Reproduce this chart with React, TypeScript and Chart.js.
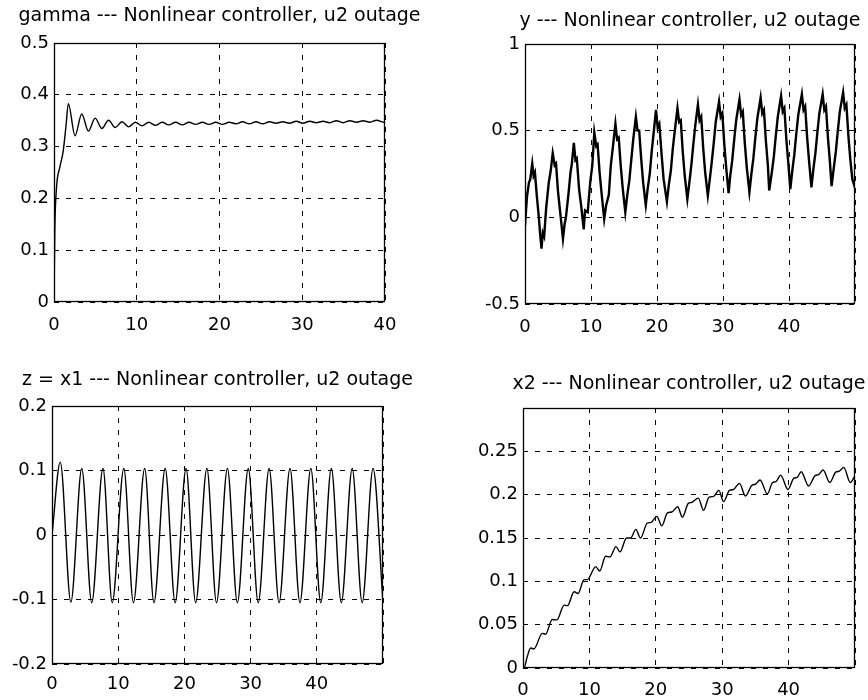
import React, { useEffect, useRef } from 'react';
import { Chart, registerables } from 'chart.js';

Chart.register(...registerables);

// ---------------- data ----------------
// gamma --- Nonlinear controller, u2 outage
const gammaT = [0, 0.1, 0.3, 0.7, 1.1, 1.45, 1.73,
  2.54, 3.35, 4.16, 4.97, 5.78, 6.59, 7.40, 8.21, 9.02, 9.83, 10.64, 11.45, 12.26, 13.07,
  13.88, 14.69, 15.50, 16.31, 17.12, 17.93, 18.74, 19.55, 20.36, 21.17, 21.98, 22.79,
  23.60, 24.41, 25.22, 26.03, 26.84, 27.65, 28.46, 29.27, 30.08, 30.89, 31.70, 32.51,
  33.32, 34.13, 34.94, 35.75, 36.56, 37.37, 38.18, 38.99, 39.80, 40];
const gammaV = [0, 0.14, 0.22, 0.26, 0.29, 0.34, 0.383,
  0.321, 0.363, 0.330, 0.355, 0.335, 0.351, 0.337, 0.348, 0.338, 0.347, 0.340, 0.347, 0.341, 0.347,
  0.342, 0.347, 0.342, 0.347, 0.343, 0.347, 0.343, 0.347, 0.343, 0.347, 0.344, 0.348,
  0.344, 0.348, 0.344, 0.348, 0.345, 0.348, 0.345, 0.349, 0.345, 0.349, 0.346, 0.349,
  0.346, 0.350, 0.346, 0.350, 0.347, 0.350, 0.347, 0.351, 0.347, 0.348];

// y --- Nonlinear controller, u2 outage
const yT = [0.0, 0.3, 0.6, 0.8, 1.1, 1.3, 1.5, 1.8, 2.1, 2.3, 2.5, 2.7, 2.9,
  3.2, 3.6, 3.9, 4.2, 4.5, 4.7, 5.0, 5.3, 5.5, 5.75, 6.0,
  6.2, 6.6, 6.9, 7.1, 7.4, 7.65, 7.85, 8.2, 8.5, 8.9, 9.1,
  9.5, 9.9, 10.2, 10.5, 10.8, 11.0, 11.3, 11.6, 12.0,
  12.3, 12.7, 13.0, 13.3, 13.7, 13.95, 14.2, 14.5, 14.8, 15.2,
  15.5, 15.8, 16.1, 16.4, 16.8, 17.05, 17.3, 17.6, 17.9, 18.3,
  18.6, 18.9, 19.2, 19.5, 19.85, 20.1, 20.35, 20.7, 21.0, 21.5,
  21.8, 22.1, 22.4, 22.7, 23.1, 23.35, 23.6, 23.9, 24.2, 24.6,
  24.9, 25.2, 25.5, 25.8, 26.2, 26.45, 26.7, 27.0, 27.3, 27.7,
  28.0, 28.3, 28.6, 28.9, 29.4, 29.65, 29.9, 30.2, 30.5, 30.85,
  31.1, 31.4, 31.7, 32.0, 32.5, 32.75, 33.0, 33.3, 33.6, 34.0,
  34.3, 34.6, 34.9, 35.2, 35.7, 35.95, 36.2, 36.5, 36.8, 37.0,
  37.4, 37.7, 38.0, 38.3, 38.8, 39.05, 39.3, 39.6, 39.9, 40.2,
  40.5, 40.8, 41.1, 41.4, 41.95, 42.2, 42.45, 42.75, 43.05, 43.4,
  43.7, 44.0, 44.3, 44.6, 45.1, 45.35, 45.6, 45.9, 46.2, 46.45,
  46.8, 47.1, 47.4, 47.7, 48.2, 48.45, 48.7, 49.0, 49.3, 49.6, 50.0];
const yV = [-0.05, 0.12, 0.2, 0.22, 0.31, 0.24, 0.26, 0.12, 0.0, -0.1, -0.18, -0.09, -0.11,
  0.05, 0.2, 0.27, 0.37, 0.3, 0.31, 0.15, 0.04, -0.03, -0.125, -0.04,
  0.0, 0.14, 0.26, 0.31, 0.43, 0.33, 0.34, 0.16, 0.07, -0.07, 0.04,
  0.03, 0.21, 0.3, 0.49, 0.41, 0.42, 0.26, 0.14, -0.01,
  0.07, 0.13, 0.3, 0.4, 0.54, 0.45, 0.46, 0.3, 0.17, 0.03,
  0.13, 0.21, 0.33, 0.45, 0.58, 0.5, 0.5, 0.34, 0.2, 0.07,
  0.17, 0.25, 0.38, 0.49, 0.62, 0.52, 0.54, 0.36, 0.22, 0.09,
  0.19, 0.27, 0.4, 0.5, 0.63, 0.55, 0.56, 0.38, 0.24, 0.105,
  0.2, 0.3, 0.42, 0.53, 0.65, 0.56, 0.58, 0.4, 0.26, 0.125,
  0.22, 0.32, 0.43, 0.55, 0.667, 0.58, 0.6, 0.42, 0.28, 0.14,
  0.24, 0.33, 0.45, 0.56, 0.68, 0.59, 0.61, 0.43, 0.29, 0.145,
  0.25, 0.34, 0.46, 0.57, 0.69, 0.6, 0.62, 0.44, 0.3, 0.155,
  0.26, 0.35, 0.47, 0.58, 0.7, 0.61, 0.63, 0.45, 0.31, 0.163,
  0.27, 0.36, 0.48, 0.59, 0.71, 0.62, 0.64, 0.46, 0.32, 0.173,
  0.28, 0.37, 0.49, 0.6, 0.71, 0.62, 0.64, 0.46, 0.32, 0.18,
  0.29, 0.38, 0.5, 0.61, 0.72, 0.63, 0.65, 0.47, 0.33, 0.22, 0.17];

// z = x1 --- Nonlinear controller, u2 outage
const zT = [0, 1.25, 2.85, 4.5, 6.0, 7.7, 9.1, 10.85, 12.3, 14.0, 15.4, 17.1, 18.6, 20.25,
  21.7, 23.4, 24.85, 26.5, 28.0, 29.65, 31.15, 32.8, 34.3, 35.95, 37.45, 39.1, 40.6,
  42.2, 43.7, 45.35, 46.85, 48.5, 50.0];
const zV = [0, 0.113, -0.104, 0.103, -0.105, 0.103, -0.105, 0.103, -0.105, 0.103, -0.105,
  0.103, -0.105, 0.103, -0.105, 0.103, -0.105, 0.103, -0.105, 0.103, -0.105, 0.103,
  -0.105, 0.103, -0.105, 0.103, -0.105, 0.103, -0.105, 0.103, -0.105, 0.103, -0.105];

// x2 --- Nonlinear controller, u2 outage
const x2T = [0, 0.15, 0.6, 1.15, 1.65, 2.9, 3.4, 4.4, 5.1, 6.2, 6.7, 7.7, 8.3, 9.2, 9.7,
  10.95, 11.55, 12.45, 13.1, 14.0, 14.6, 15.6, 16.2, 17.0, 17.7, 18.7, 19.3, 20.15, 20.9,
  21.75, 22.4, 23.3, 24.0, 24.9, 25.4, 26.4, 27.2, 28.0, 28.7, 29.5, 30.2, 31.1, 31.7,
  32.6, 33.5, 34.5, 35.0, 35.7, 36.8, 37.6, 38.1, 38.8, 39.9, 40.8, 41.3, 41.9, 43.0,
  44.0, 44.5, 45.2, 46.2, 47.1, 47.6, 48.3, 49.3, 50.0];
const x2V = [0, 0, 0.012, 0.023, 0.022, 0.040, 0.039, 0.056, 0.0555, 0.0725, 0.072, 0.088,
  0.086, 0.102, 0.102, 0.117, 0.112, 0.129, 0.128, 0.140, 0.134, 0.150, 0.150, 0.160,
  0.150, 0.167, 0.168, 0.175, 0.164, 0.179, 0.180, 0.186, 0.174, 0.190, 0.191, 0.196,
  0.182, 0.197, 0.198, 0.205, 0.192, 0.205, 0.206, 0.213, 0.1985, 0.211, 0.212, 0.217,
  0.201, 0.214, 0.215, 0.2225, 0.206, 0.219, 0.220, 0.2265, 0.210, 0.222, 0.223, 0.2285,
  0.214, 0.226, 0.227, 0.2315, 0.214, 0.222];

const titles = [
  'gamma --- Nonlinear controller, u2 outage',
  'y --- Nonlinear controller, u2 outage',
  'z = x1 --- Nonlinear controller, u2 outage',
  'x2 --- Nonlinear controller, u2 outage',
];

// ---------------- drawing ----------------
const FONT = '"DejaVu Sans", "Liberation Sans", sans-serif';

const frameTitlePlugin = {
  id: 'frameTitle',
  afterDraw(chart: any, _args: any, opts: any) {
    const { ctx, chartArea: a } = chart;
    ctx.save();
    ctx.strokeStyle = '#000';
    ctx.lineWidth = 1.3;
    ctx.setLineDash([]);
    ctx.strokeRect(Math.round(a.left) + 0.5, Math.round(a.top) + 0.5,
      Math.round(a.right - a.left) - 1, Math.round(a.bottom - a.top) - 1);
    ctx.fillStyle = '#000';
    ctx.font = `19px ${FONT}`;
    ctx.textAlign = 'center';
    ctx.textBaseline = 'alphabetic';
    ctx.fillText(opts.text, (a.left + a.right) / 2, opts.y);
    ctx.restore();
  },
};

type Panel = {
  title: string;
  xs: number[];
  ys: number[];
  xMax: number;
  yMin: number;
  yMax: number;
  yStep: number;
  hideY: number | null;
  left: number;
  top: number;
  pad: { left: number; right: number; top: number; bottom: number };
  xH: number;
  xPad: number;
  titleY: number;
  lineWidth: number;
  smooth: boolean;
};

const panels: Panel[] = [
  { title: titles[0], xs: gammaT, ys: gammaV, xMax: 40, yMin: 0, yMax: 0.5, yStep: 0.1, hideY: null,
    left: 0, top: 0, pad: { left: 4, right: 49, top: 43, bottom: 8 }, xH: 40, xPad: 13, titleY: 21, lineWidth: 1.4, smooth: true },
  { title: titles[1], xs: yT, ys: yV, xMax: 50, yMin: -0.5, yMax: 1, yStep: 0.5, hideY: null,
    left: 434, top: 0, pad: { left: 41, right: 11, top: 44, bottom: 6 }, xH: 40, xPad: 13, titleY: 26, lineWidth: 2.4, smooth: false },
  { title: titles[2], xs: zT, ys: zV, xMax: 50, yMin: -0.2, yMax: 0.2, yStep: 0.1, hideY: null,
    left: 0, top: 350, pad: { left: 2, right: 51, top: 56, bottom: 6 }, xH: 30, xPad: 10, titleY: 35, lineWidth: 1.4, smooth: true },
  { title: titles[3], xs: x2T, ys: x2V, xMax: 50, yMin: 0, yMax: 0.3, yStep: 0.05, hideY: 0.3,
    left: 434, top: 350, pad: { left: 39, right: 13, top: 58, bottom: 2 }, xH: 30, xPad: 12, titleY: 39, lineWidth: 1.4, smooth: true },
];

function PanelChart({ p }: { p: Panel }) {
  const ref = useRef<HTMLCanvasElement | null>(null);
  useEffect(() => {
    if (!ref.current) return;
    const data = p.xs.map((x, i) => ({ x, y: p.ys[i] }));
    const chart = new Chart(ref.current, {
      type: 'line',
      data: {
        datasets: [{
          data,
          borderColor: '#000',
          borderWidth: p.lineWidth,
          pointRadius: 0,
          fill: false,
          tension: p.smooth ? 0.4 : 0,
          cubicInterpolationMode: p.smooth ? 'monotone' : 'default',
        }],
      },
      options: {
        animation: false,
        responsive: false,
        events: [],
        layout: { padding: p.pad },
        plugins: {
          legend: { display: false },
          title: { display: false },
          tooltip: { enabled: false },
          frameTitle: { text: p.title, y: p.titleY },
        } as any,
        scales: {
          x: {
            type: 'linear',
            min: 0,
            max: p.xMax,
            afterFit: (s: any) => { s.height = p.xH; },
            ticks: {
              stepSize: 10,
              autoSkip: false,
              maxRotation: 0,
              padding: p.xPad,
              color: '#000',
              font: { family: FONT, size: 18 },
              callback: (v: any) => (p.xMax === 50 && v === 50 ? '' : String(v)),
            },
            grid: { color: '#000', lineWidth: 1, drawTicks: false },
            border: { display: false, dash: [5, 7] },
          },
          y: {
            type: 'linear',
            min: p.yMin,
            max: p.yMax,
            afterFit: (s: any) => { s.width = 50; },
            ticks: {
              stepSize: p.yStep,
              autoSkip: false,
              padding: 5,
              color: '#000',
              font: { family: FONT, size: 18 },
              callback: (v: any) => {
                const r = Math.round(Number(v) * 1000) / 1000;
                if (p.hideY !== null && Math.abs(r - p.hideY) < 1e-9) return '';
                return String(r);
              },
            },
            grid: { color: '#000', lineWidth: 1, drawTicks: false },
            border: { display: false, dash: [5, 7] },
          },
        },
      },
      plugins: [frameTitlePlugin as any],
    } as any);
    return () => chart.destroy();
  }, [p]);
  return (
    <canvas
      ref={ref}
      width={434}
      height={350}
      style={{ position: 'absolute', left: p.left, top: p.top, width: 434, height: 350 }}
    />
  );
}

export default function App() {
  return (
    <div style={{ position: 'absolute', left: 0, top: 0, width: 868, height: 700, background: '#fff', overflow: 'hidden' }}>
      {panels.map((p, i) => (
        <PanelChart key={i} p={p} />
      ))}
    </div>
  );
}
